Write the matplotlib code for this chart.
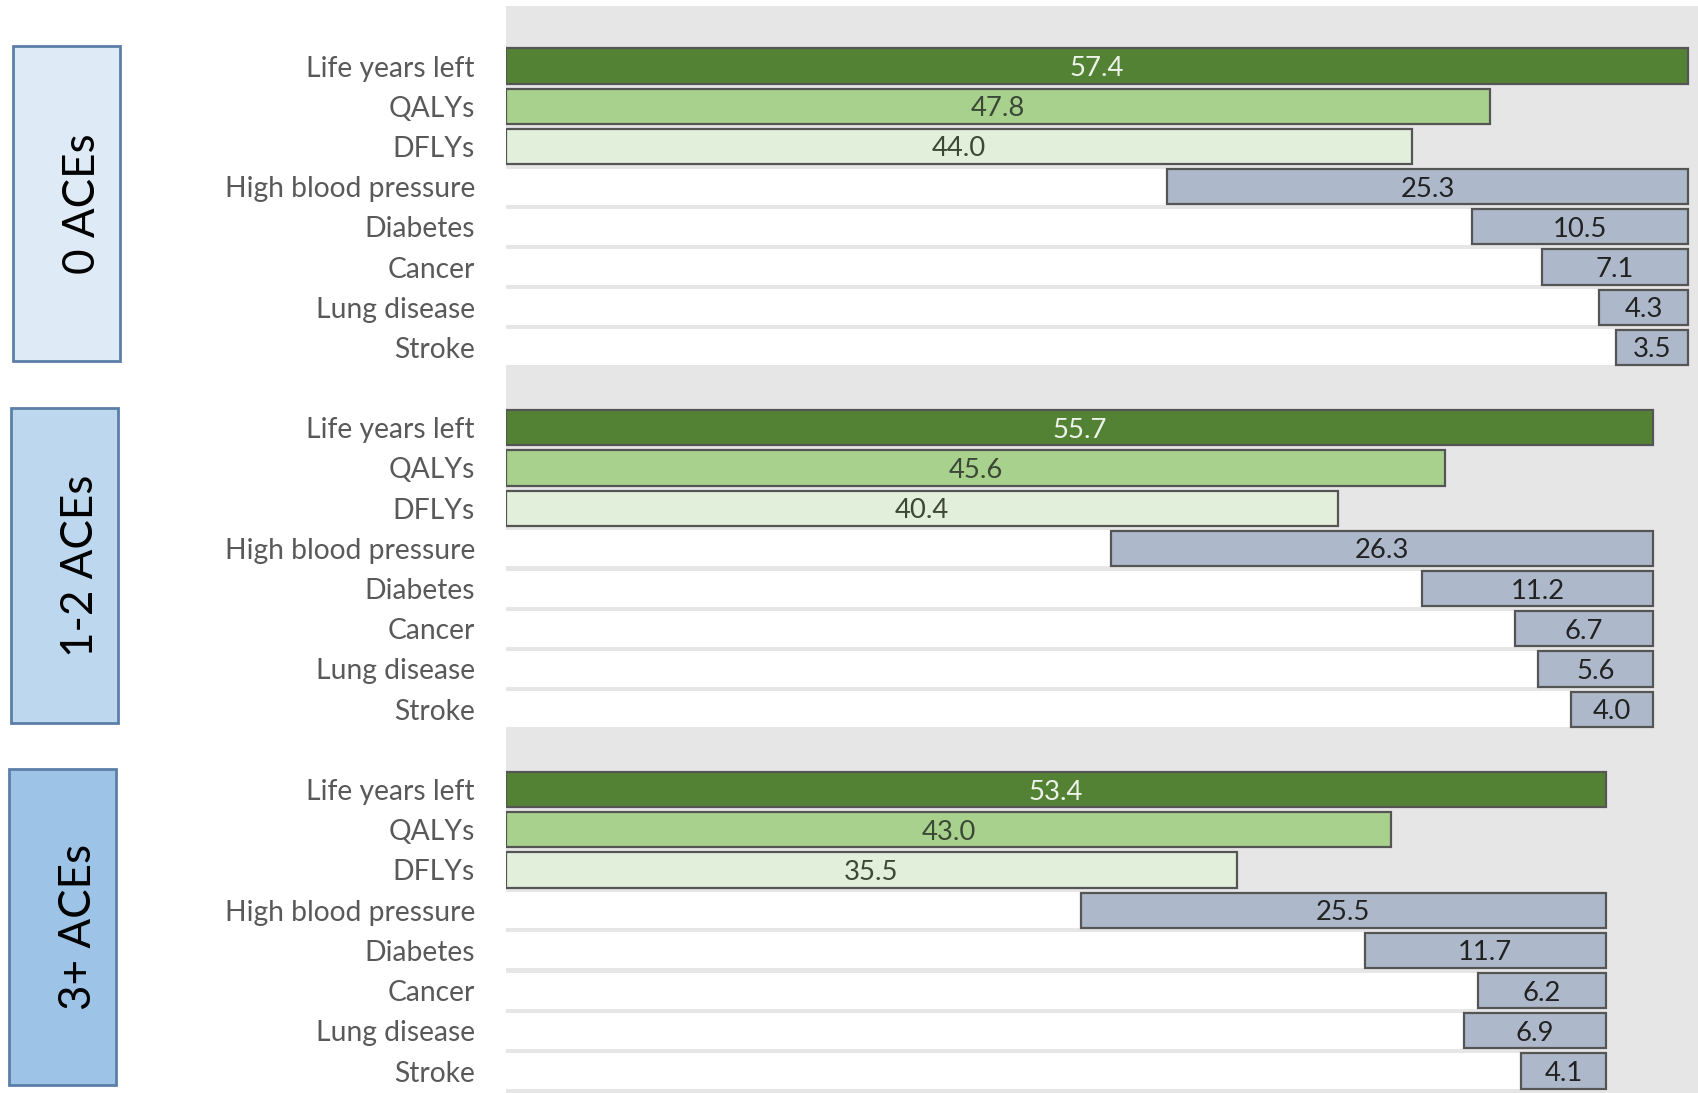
import matplotlib
matplotlib.use("Agg")
import matplotlib.pyplot as plt
from matplotlib.patches import Rectangle

plt.rcParams['font.family'] = ['Lato', 'DejaVu Sans']

# ---------------- data ----------------
groups = ["0 ACEs", "1-2 ACEs", "3+ ACEs"]
measures = ["Life years left", "QALYs", "DFLYs"]
conditions = ["High blood pressure", "Diabetes", "Cancer", "Lung disease", "Stroke"]

life_years = [57.4, 55.7, 53.4]
qalys = [47.8, 45.6, 43.0]
dflys = [44.0, 40.4, 35.5]

high_bp = [25.3, 26.3, 25.5]
diabetes = [10.5, 11.2, 11.7]
cancer = [7.1, 6.7, 6.2]
lung_disease = [4.3, 5.6, 6.9]
stroke = [3.5, 4.0, 4.1]

# ---------------- style ----------------
W, H = 1698, 1093
DPI = 100
c_bg = '#e7e6e6'
c_lyl = '#548235'
c_qaly = '#a9d18e'
c_dfly = '#e2efda'
c_cond = '#adb9ca'
c_edge = '#555555'
c_label = '#595959'
box_fills = ['#deebf7', '#bdd7ee', '#9dc3e6']
box_edge = '#5b7fa8'

fig = plt.figure(figsize=(W / DPI, H / DPI), dpi=DPI)
renderer = fig.canvas.get_renderer()

def fit_size(text, target_px, base=20):
    t = fig.text(0, 0, text, fontsize=base)
    w = t.get_window_extent(renderer=renderer).width
    t.remove()
    return base * target_px / w

lab_fs = fit_size("High blood pressure", 251)
val_fs = fit_size("25.3", 54)
box_fs = fit_size("1-2 ACEs", 182)

ax_left_px = 506
top_px = 6
ax = fig.add_axes([ax_left_px / W, 0, 1 - ax_left_px / W, (H - top_px) / H])
ax.set_facecolor(c_bg)
row0_px, step_px = 66, 40.2
y_top = -(row0_px - top_px) / step_px
y_bot = (H - row0_px) / step_px
ax.set_ylim(y_bot, y_top)
px_per_unit = (1688 - 506) / 57.4
ax.set_xlim(0, (W - ax_left_px) / px_per_unit)

bh = 0.88
lw = 1.6
yticks, ylabels = [], []
for g in range(len(groups)):
    base = g * 9
    lyl = life_years[g]
    mvals = [life_years[g], qalys[g], dflys[g]]
    mcols = [c_lyl, c_qaly, c_dfly]
    tcols = ['#eef3ea', '#3c4836', '#3c4836']
    for i, (v, c, tc) in enumerate(zip(mvals, mcols, tcols)):
        y = base + i
        ax.barh(y, v, height=bh, color=c, edgecolor=c_edge, linewidth=lw, zorder=3)
        ax.text(v / 2, y, f"{v:.1f}", ha='center', va='center_baseline', fontsize=val_fs,
                color=tc, zorder=4)
        yticks.append(y); ylabels.append(measures[i])
    cvals = [high_bp[g], diabetes[g], cancer[g], lung_disease[g], stroke[g]]
    for j, v in enumerate(cvals):
        y = base + 3 + j
        ax.barh(y, lyl, height=bh + 0.02, color='white', linewidth=0, zorder=2)
        ax.barh(y, v, left=lyl - v, height=bh, color=c_cond, edgecolor=c_edge,
                linewidth=lw, zorder=3)
        ax.text(lyl - v / 2, y, f"{v:.1f}", ha='center', va='center_baseline', fontsize=val_fs,
                color='#222222', zorder=4)
        yticks.append(y); ylabels.append(conditions[j])

ax.set_yticks(yticks)
ax.set_yticklabels(ylabels, fontsize=lab_fs, color=c_label)
ax.tick_params(axis='y', length=0, pad=(506 - 475) * 72 / DPI)
ax.set_xticks([])
for s in ax.spines.values():
    s.set_visible(False)

# left group boxes
axl = fig.add_axes([0, 0, ax_left_px / W, (H - top_px) / H])
axl.set_xlim(0, ax_left_px)
axl.set_ylim(y_bot, y_top)
axl.axis('off')
box_x = [13, 11, 9]
for g, name in enumerate(groups):
    base = g * 9
    y0 = base - 0.5
    y1 = base + 7.35
    x0 = box_x[g]
    bw = 107
    axl.add_patch(Rectangle((x0, y0), bw, y1 - y0, facecolor=box_fills[g],
                            edgecolor=box_edge, linewidth=2.0, zorder=2))
    axl.text(x0 + 82, (y0 + y1) / 2, name, rotation=90, rotation_mode='anchor',
             ha='center', va='baseline', fontsize=box_fs, color='black', zorder=3)

fig.savefig("out.png", dpi=DPI)
